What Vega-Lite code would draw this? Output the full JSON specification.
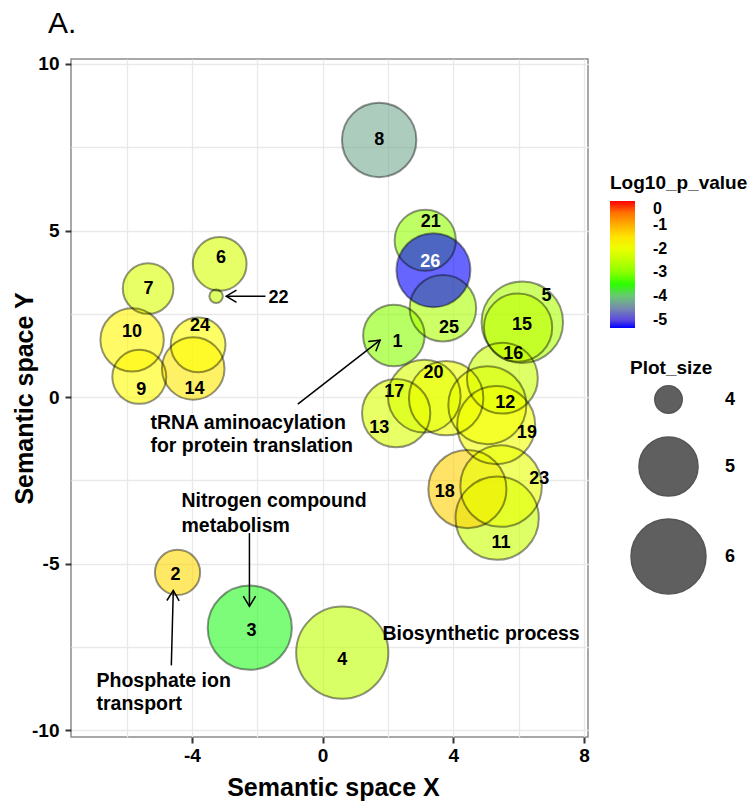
{
  "$schema": "https://vega.github.io/schema/vega-lite/v6.json",
  "autosize": "none",
  "width": 517,
  "height": 678,
  "padding": {"left": 71, "top": 59, "right": 167, "bottom": 68},
  "background": "white",
  "title": {"text": "A.", "anchor": "start", "frame": "group", "dx": -23, "dy": 32, "offset": 24, "fontSize": 30, "fontWeight": "normal", "baseline": "alphabetic", "color": "black", "font": "Liberation Sans"},
  "datasets": {
    "bubbles": [
      {"id": "1", "x": 2.18, "y": 1.85, "lx": 2.29, "ly": 1.66, "plot_size": 5.14, "log10_p_value": -3.0},
      {"id": "2", "x": -4.44, "y": -5.26, "lx": -4.5, "ly": -5.35, "plot_size": 4.47, "log10_p_value": -1.4},
      {"id": "3", "x": -2.23, "y": -6.92, "lx": -2.18, "ly": -7.03, "plot_size": 6.69, "log10_p_value": -3.6},
      {"id": "4", "x": 0.6, "y": -7.67, "lx": 0.6, "ly": -7.9, "plot_size": 7.35, "log10_p_value": -2.5},
      {"id": "5", "x": 6.11, "y": 2.25, "lx": 6.85, "ly": 3.04, "plot_size": 6.48, "log10_p_value": -2.7},
      {"id": "6", "x": -3.15, "y": 4.0, "lx": -3.11, "ly": 4.17, "plot_size": 4.78, "log10_p_value": -2.25},
      {"id": "7", "x": -5.34, "y": 3.26, "lx": -5.33, "ly": 3.26, "plot_size": 4.66, "log10_p_value": -2.2},
      {"id": "8", "x": 1.73, "y": 7.72, "lx": 1.73, "ly": 7.72, "plot_size": 5.96, "log10_p_value": -4.25},
      {"id": "9", "x": -5.61, "y": 0.61, "lx": -5.55, "ly": 0.23, "plot_size": 4.79, "log10_p_value": -1.75},
      {"id": "10", "x": -5.83, "y": 1.72, "lx": -5.83, "ly": 1.96, "plot_size": 5.25, "log10_p_value": -1.7},
      {"id": "11", "x": 5.34, "y": -3.63, "lx": 5.46, "ly": -4.38, "plot_size": 6.62, "log10_p_value": -2.4},
      {"id": "12", "x": 5.04, "y": -0.24, "lx": 5.59, "ly": -0.17, "plot_size": 6.22, "log10_p_value": -1.9},
      {"id": "13", "x": 2.25, "y": -0.48, "lx": 1.73, "ly": -0.92, "plot_size": 5.55, "log10_p_value": -2.2},
      {"id": "14", "x": -3.96, "y": 0.86, "lx": -3.92, "ly": 0.26, "plot_size": 5.2, "log10_p_value": -1.55},
      {"id": "15", "x": 5.98, "y": 2.09, "lx": 6.1, "ly": 2.16, "plot_size": 5.55, "log10_p_value": -2.5},
      {"id": "16", "x": 5.5, "y": 0.57, "lx": 5.83, "ly": 1.31, "plot_size": 5.72, "log10_p_value": -2.4},
      {"id": "17", "x": 3.11, "y": 0.03, "lx": 2.19, "ly": 0.16, "plot_size": 5.84, "log10_p_value": -2.2},
      {"id": "18", "x": 4.43, "y": -2.76, "lx": 3.74, "ly": -2.84, "plot_size": 6.22, "log10_p_value": -1.33},
      {"id": "19", "x": 5.31, "y": -0.84, "lx": 6.25, "ly": -1.08, "plot_size": 6.22, "log10_p_value": -1.95},
      {"id": "20", "x": 3.78, "y": -0.03, "lx": 3.39, "ly": 0.72, "plot_size": 5.96, "log10_p_value": -2.0},
      {"id": "21", "x": 3.14, "y": 4.71, "lx": 3.31, "ly": 5.26, "plot_size": 5.12, "log10_p_value": -2.9},
      {"id": "22", "x": -3.26, "y": 3.03, "lx": -1.35, "ly": 2.98, "plot_size": 3.79, "log10_p_value": -2.4},
      {"id": "23", "x": 5.46, "y": -2.67, "lx": 6.63, "ly": -2.46, "plot_size": 6.48, "log10_p_value": -2.05},
      {"id": "24", "x": -3.81, "y": 1.57, "lx": -3.75, "ly": 2.13, "plot_size": 4.82, "log10_p_value": -1.8},
      {"id": "25", "x": 3.68, "y": 2.67, "lx": 3.87, "ly": 2.08, "plot_size": 5.44, "log10_p_value": -2.7},
      {"id": "26", "x": 3.39, "y": 3.81, "lx": 3.29, "ly": 4.05, "plot_size": 5.93, "log10_p_value": -5.34}
    ],
    "notes": [
      {"text": "tRNA aminoacylation", "x": -5.27, "y": -0.97},
      {"text": "for protein translation", "x": -5.27, "y": -1.64},
      {"text": "Nitrogen compound", "x": -4.32, "y": -3.3},
      {"text": "metabolism", "x": -4.32, "y": -4.05},
      {"text": "Biosynthetic process", "x": 1.83, "y": -7.3},
      {"text": "Phosphate ion", "x": -6.92, "y": -8.71},
      {"text": "transport", "x": -6.92, "y": -9.4}
    ],
    "arrows": [
      {"x": -0.76, "y": -0.21, "x2": 1.76, "y2": 1.71, "angle": -37.8},
      {"x": -1.75, "y": 3.03, "x2": -2.95, "y2": 3.03, "angle": 180},
      {"x": -2.24, "y": -4.08, "x2": -2.24, "y2": -6.28, "angle": 90},
      {"x": -4.63, "y": -8.05, "x2": -4.57, "y2": -5.8, "angle": -88.5}
    ]
  },
  "layer": [
    {
      "data": {"name": "bubbles"},
      "mark": {"type": "point", "shape": "circle", "filled": true, "fillOpacity": 0.6, "strokeWidth": 0},
      "encoding": {
        "x": {"field": "x", "type": "quantitative", "title": "Semantic space X",
          "scale": {"domain": [-7.7, 8.12], "nice": false, "zero": false},
          "axis": {"values": [-6, -4, -2, 0, 2, 4, 6, 8], "labelExpr": "datum.value % 4 === 0 ? toString(datum.value) : ''",
            "tickOpacity": {"condition": {"test": "datum.value % 4 !== 0", "value": 0}, "value": 1},
            "domain": false, "grid": true, "gridColor": "#e9e9e9", "gridWidth": 1.3,
            "tickColor": "#333333", "tickWidth": 2, "tickSize": 6, "labelFlush": false,
            "labelFont": "Liberation Sans", "labelFontSize": 19, "labelFontWeight": "bold", "labelColor": "black", "labelPadding": 3,
            "titleFont": "Liberation Sans", "titleFontSize": 25, "titleFontWeight": "bold", "titleColor": "black",
            "titleX": 262, "titleY": 58, "titleBaseline": "alphabetic"}},
        "y": {"field": "y", "type": "quantitative", "title": "Semantic space Y",
          "scale": {"domain": [-10.2, 10.15], "nice": false, "zero": false},
          "axis": {"values": [-10, -7.5, -5, -2.5, 0, 2.5, 5, 7.5, 10], "labelExpr": "datum.value % 5 === 0 ? toString(datum.value) : ''",
            "tickOpacity": {"condition": {"test": "datum.value % 5 !== 0", "value": 0}, "value": 1},
            "domain": false, "grid": true, "gridColor": "#e9e9e9", "gridWidth": 1.3,
            "tickColor": "#333333", "tickWidth": 2, "tickSize": 6, "labelFlush": false,
            "labelFont": "Liberation Sans", "labelFontSize": 19, "labelFontWeight": "bold", "labelColor": "black", "labelPadding": 6,
            "titleFont": "Liberation Sans", "titleFontSize": 25, "titleFontWeight": "bold", "titleColor": "black",
            "titleX": -39, "titleY": 339, "titleBaseline": "alphabetic"}},
        "fill": {"field": "log10_p_value", "type": "quantitative",
          "scale": {"domain": [-5.34, -3.56, -1.78, 0], "range": ["#0000ff", "#00ff00", "#ffff00", "#ff0000"], "interpolate": "lab"},
          "legend": {"title": "Log10_p_value", "orient": "none", "legendX": 539, "legendY": 115, "padding": 0,
            "direction": "vertical", "gradientLength": 127, "gradientThickness": 25, "gradientStrokeWidth": 0,
            "values": [0, -1, -2, -3, -4, -5], "labelExpr": "toString(datum.value)", "labelOverlap": false,
            "labelFont": "Liberation Sans", "labelFontSize": 16, "labelFontWeight": "bold", "labelColor": "black",
            "labelAlign": "right", "labelOffset": 18, "labelBaseline": "middle",
            "titleFont": "Liberation Sans", "titleFontSize": 19, "titleFontWeight": "bold", "titleColor": "black", "titlePadding": 8}},
        "size": {"field": "plot_size", "type": "quantitative",
          "scale": {"domain": [4, 5, 6], "range": [755, 3490, 5620], "zero": false},
          "legend": {"title": "Plot_size", "orient": "none", "legendX": 559, "legendY": 300, "padding": 0,
            "values": [4, 5, 6], "labelExpr": "toString(datum.value)", "symbolType": "circle", "rowPadding": 16, "labelOffset": 18,
            "symbolFillColor": "#5f5f5f", "symbolStrokeColor": "#555555", "symbolStrokeWidth": 1.5, "symbolOpacity": 1,
            "labelFont": "Liberation Sans", "labelFontSize": 18, "labelFontWeight": "bold", "labelColor": "black",
            "titleFont": "Liberation Sans", "titleFontSize": 19, "titleFontWeight": "bold", "titleColor": "black", "titlePadding": 7}}
      }
    },
    {
      "data": {"name": "bubbles"},
      "mark": {"type": "point", "shape": "circle", "filled": false, "stroke": "black", "strokeOpacity": 0.6, "strokeWidth": 2},
      "encoding": {
        "x": {"field": "x", "type": "quantitative", "title": "Semantic space X"},
        "y": {"field": "y", "type": "quantitative", "title": "Semantic space Y"},
        "size": {"field": "plot_size", "type": "quantitative", "legend": null}
      }
    },
    {
      "data": {"name": "bubbles"},
      "mark": {"type": "text", "font": "Liberation Sans", "fontSize": 18, "fontWeight": "bold", "align": "center", "baseline": "middle"},
      "encoding": {
        "x": {"field": "lx", "type": "quantitative", "title": "Semantic space X"},
        "y": {"field": "ly", "type": "quantitative", "title": "Semantic space Y"},
        "text": {"field": "id"},
        "fill": {"condition": {"test": "datum.id === '26'", "value": "white"}, "value": "black"}
      }
    },
    {
      "data": {"name": "notes"},
      "mark": {"type": "text", "font": "Liberation Sans", "fontSize": 19.5, "fontWeight": "bold", "align": "left", "baseline": "alphabetic", "color": "black"},
      "encoding": {
        "x": {"field": "x", "type": "quantitative", "title": "Semantic space X"},
        "y": {"field": "y", "type": "quantitative", "title": "Semantic space Y"},
        "text": {"field": "text"}
      }
    },
    {
      "data": {"name": "arrows"},
      "mark": {"type": "rule", "color": "black", "strokeWidth": 1.5},
      "encoding": {
        "x": {"field": "x", "type": "quantitative", "title": "Semantic space X"},
        "y": {"field": "y", "type": "quantitative", "title": "Semantic space Y"},
        "x2": {"field": "x2"},
        "y2": {"field": "y2"}
      }
    },
    {
      "data": {"name": "arrows"},
      "mark": {"type": "point", "shape": "M-1,-0.6L0,0L-1,0.6", "filled": false, "stroke": "black", "strokeWidth": 1.5, "size": 420, "opacity": 1},
      "encoding": {
        "x": {"field": "x2", "type": "quantitative", "title": "Semantic space X"},
        "y": {"field": "y2", "type": "quantitative", "title": "Semantic space Y"},
        "angle": {"field": "angle", "type": "quantitative", "scale": null}
      }
    }
  ],
  "config": {
    "font": "Liberation Sans",
    "view": {"stroke": "#8c8c8c", "strokeWidth": 1.5}
  }
}
